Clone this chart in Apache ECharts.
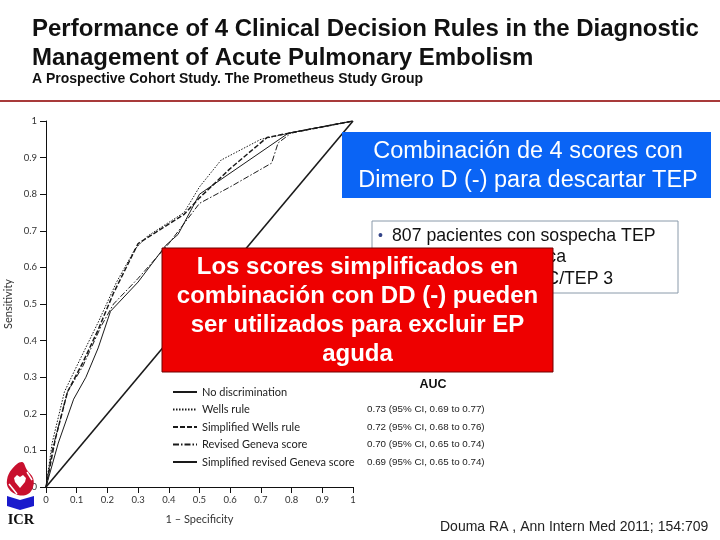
<!DOCTYPE html>
<html>
<head>
<meta charset="utf-8">
<script src="https://cdn.jsdelivr.net/npm/echarts@6/dist/echarts.min.js"></script>
<style>html,body{margin:0;padding:0;background:#fff;}#c{width:720px;height:540px;}</style>
</head>
<body>
<div id="c"></div>
<script>
// ---- data ----
const seriesNames = ['No discrimination', 'Wells rule', 'Simplified Wells rule', 'Revised Geneva score', 'Simplified revised Geneva score'];
const aucLabels = ['', '0.73 (95% CI, 0.69 to 0.77)', '0.72 (95% CI, 0.68 to 0.76)', '0.70 (95% CI, 0.65 to 0.74)', '0.69 (95% CI, 0.65 to 0.74)'];
const noDiscrimination = [[0,0],[1,1]];
const wellsRule = [[0,0],[0.02,0.12],[0.06,0.26],[0.1,0.33],[0.17,0.45],[0.23,0.56],[0.29,0.65],[0.33,0.685],[0.45,0.75],[0.5,0.82],[0.57,0.893],[0.7,0.95],[0.8,0.968],[1,1]];
const simplifiedWells = [[0,0],[0.03,0.13],[0.07,0.26],[0.12,0.34],[0.17,0.43],[0.22,0.53],[0.3,0.665],[0.45,0.745],[0.5,0.79],[0.6,0.87],[0.72,0.955],[0.8,0.968],[1,1]];
const revisedGeneva = [[0,0],[0.02,0.1],[0.07,0.26],[0.12,0.33],[0.18,0.44],[0.22,0.5],[0.3,0.57],[0.4,0.665],[0.5,0.775],[0.6,0.82],[0.735,0.885],[0.756,0.94],[0.8,0.968],[1,1]];
const simplifiedRevisedGeneva = [[0,0],[0.04,0.12],[0.09,0.24],[0.13,0.3],[0.17,0.38],[0.21,0.48],[0.3,0.56],[0.39,0.66],[0.43,0.69],[0.5,0.8],[0.79,0.967],[1,1]];
const xTickLabels = ['0','0.1','0.2','0.3','0.4','0.5','0.6','0.7','0.8','0.9','1'];
const yTickLabels = ['0','0.1','0.2','0.3','0.4','0.5','0.6','0.7','0.8','0.9','1'];

const titleLines = ['Performance of 4 Clinical Decision Rules in the Diagnostic', 'Management of Acute Pulmonary Embolism'];
const subtitle = 'A Prospective Cohort Study. The Prometheus Study Group';
const blueLines = ['Combinación de 4 scores con', 'Dimero D (-) para descartar TEP'];
const boxLines = ['807 pacientes con sospecha TEP', 'Estrategia diagnóstica', 'Referencia: angio TC/TEP 3'];
const redLines = ['Los scores simplificados en', 'combinación con DD (-) pueden', 'ser utilizados para excluir EP', 'aguda'];
const citation = 'Douma RA , Ann Intern Med 2011; 154:709';

const chart = echarts.init(document.getElementById('c'));
const axisFont = 'Lato, "Noto Sans", sans-serif';
const tickIdx = v => Math.round(v * 10);

const styles = [
  {width: 1.6, type: 'solid'},
  {width: 1, type: [1.5, 1.5]},
  {width: 1.5, type: [5, 2]},
  {width: 1, type: [6, 2, 1.5, 2]},
  {width: 1, type: 'solid'}
];
const datasets = [noDiscrimination, wellsRule, simplifiedWells, revisedGeneva, simplifiedRevisedGeneva];

const graphics = [];
graphics.push({type:'line', shape:{x1:0,y1:101,x2:720,y2:101}, style:{stroke:'#a83a3a', lineWidth:2}, z:100});
titleLines.forEach((t,i)=>graphics.push({type:'text', x:32, y:29.5+i*29, style:{text:t, font:'bold 24px "Liberation Sans", Arial, sans-serif', fill:'#111', textVerticalAlign:'middle'}, z:100}));
graphics.push({type:'text', x:32, y:79, style:{text:subtitle, font:'bold 14px "Liberation Sans", Arial, sans-serif', fill:'#111', textVerticalAlign:'middle'}, z:100});
graphics.push({type:'rect', shape:{x:342,y:132,width:369,height:66}, style:{fill:'#0a64f5'}, z:100});
blueLines.forEach((t,i)=>graphics.push({type:'text', x:528, y:152+i*29, style:{text:t, font:'23.5px "Liberation Sans", Arial, sans-serif', fill:'#fff', textAlign:'center', textVerticalAlign:'middle'}, z:101}));
graphics.push({type:'rect', shape:{x:372,y:221,width:306,height:72}, style:{fill:'#fff', stroke:'#8a9aaa', lineWidth:1}, z:100});
boxLines.forEach((t,i)=>{
  graphics.push({type:'text', x:378, y:236+i*21.5, style:{text:'•', font:'14px "Liberation Sans", Arial, sans-serif', fill:'#334488', textVerticalAlign:'middle'}, z:101});
  graphics.push({type:'text', x:392, y:236+i*21.5, style:{text:t, font:'17.7px "Liberation Sans", Arial, sans-serif', fill:'#111', textVerticalAlign:'middle'}, z:101});
});
graphics.push({type:'rect', shape:{x:162,y:248,width:391,height:124}, style:{fill:'#ee0000', stroke:'#700000', lineWidth:1}, z:110});
redLines.forEach((t,i)=>graphics.push({type:'text', x:357.5, y:267+i*29, style:{text:t, font:'bold 24px "Liberation Sans", Arial, sans-serif', fill:'#fff', textAlign:'center', textVerticalAlign:'middle'}, z:111}));
graphics.push({type:'text', x:433, y:385, style:{text:'AUC', font:'bold 12.5px "Liberation Sans", Arial, sans-serif', fill:'#111', textAlign:'center', textVerticalAlign:'middle'}, z:100});
graphics.push({type:'text', x:440, y:527, style:{text:citation, font:'14px "Liberation Sans", Arial, sans-serif', fill:'#222', textVerticalAlign:'middle'}, z:100});
// logo
graphics.push({type:'polygon', shape:{points:[[22,462],[12,469],[7,480],[9,489],[18,495],[28,494],[33,487],[33,478],[27,470]], smooth:0.4}, style:{fill:'#c8102e'}, z:100});
graphics.push({type:'polygon', shape:{points:[[20,488],[15,482],[14,478],[17,475],[20,477],[23,475],[26,478],[25,482]]}, style:{fill:'#fff'}, z:101});
graphics.push({type:'line', shape:{x1:9,y1:484,x2:17,y2:494}, style:{stroke:'#fff', lineWidth:1.5}, z:101});
graphics.push({type:'line', shape:{x1:27,y1:472,x2:32,y2:480}, style:{stroke:'#fff', lineWidth:1.5}, z:101});
graphics.push({type:'polygon', shape:{points:[[7,496],[20,500],[34,496],[34,506],[20,510],[7,506]]}, style:{fill:'#1a1acc'}, z:100});
graphics.push({type:'text', x:21, y:520, style:{text:'ICR', font:'bold 14.5px "Liberation Serif", serif', fill:'#111', textAlign:'center', textVerticalAlign:'middle'}, z:100});

chart.setOption({
  animation: false,
  backgroundColor: '#fff',
  grid: {left: 46, top: 121, width: 307, height: 366},
  legend: {
    orient: 'vertical', left: 167, top: 381.5, padding: 5,
    itemWidth: 24, itemHeight: 11, itemGap: 6.5,
    selectedMode: false,
    itemStyle: {color: 'transparent', borderWidth: 0, opacity: 0},
    data: seriesNames,
    formatter: name => {
      const i = seriesNames.indexOf(name);
      return '{n|' + name + '}' + (aucLabels[i] ? '{v|' + aucLabels[i] + '}' : '');
    },
    textStyle: {
      color: '#222',
      rich: {
        n: {width: 165, fontFamily: axisFont, fontSize: 11, color: '#222', lineHeight: 11},
        v: {fontFamily: '"Liberation Sans", Arial, sans-serif', fontSize: 9.8, color: '#222', lineHeight: 11}
      }
    }
  },
  xAxis: {
    type: 'value', min: 0, max: 1, interval: 0.1,
    name: '1 – Specificity', nameLocation: 'middle', nameGap: 27,
    nameTextStyle: {fontFamily: axisFont, fontSize: 11, color: '#333'},
    axisLine: {lineStyle: {color: '#111', width: 1}},
    axisTick: {length: 6, lineStyle: {color: '#111'}},
    splitLine: {show: false},
    axisLabel: {margin: 8, fontFamily: axisFont, fontSize: 9.5, color: '#333', formatter: v => xTickLabels[tickIdx(v)]}
  },
  yAxis: {
    type: 'value', min: 0, max: 1, interval: 0.1,
    name: 'Sensitivity', nameLocation: 'middle', nameGap: 32, nameRotate: 90,
    nameTextStyle: {fontFamily: axisFont, fontSize: 11, color: '#333'},
    axisLine: {show: true, lineStyle: {color: '#111', width: 1}},
    axisTick: {show: true, length: 6, lineStyle: {color: '#111'}},
    splitLine: {show: false},
    axisLabel: {margin: 9, fontFamily: axisFont, fontSize: 9.5, color: '#333', formatter: v => yTickLabels[tickIdx(v)]}
  },
  series: seriesNames.map((n, i) => ({
    name: n, type: 'line', data: datasets[i], symbol: 'none', silent: true,
    lineStyle: {color: '#1a1a1a', width: styles[i].width, type: styles[i].type},
    itemStyle: {color: '#1a1a1a'}
  })),
  graphic: graphics
});
</script>
</body>
</html>
